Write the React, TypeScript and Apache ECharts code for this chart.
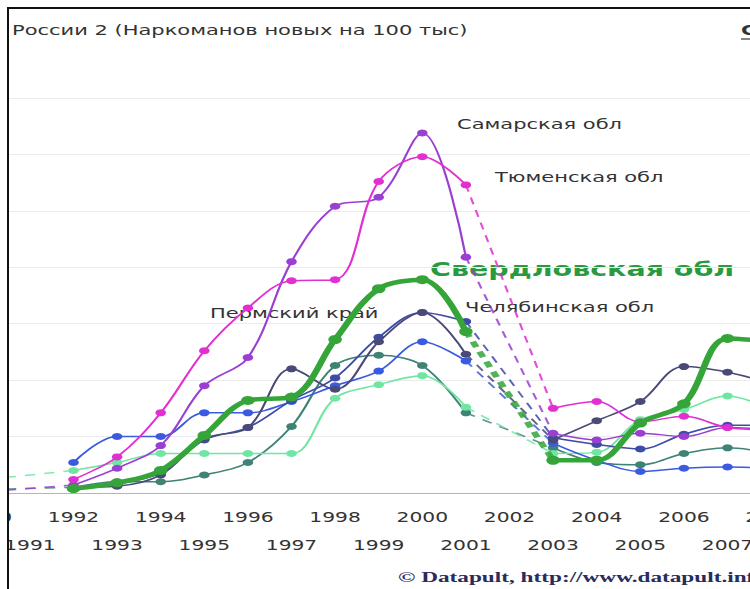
import React, { useEffect, useRef } from 'react';
import * as echarts from 'echarts';

const YEARS = ['1990', '1991', '1992', '1993', '1994', '1995', '1996', '1997', '1998', '1999', '2000', '2001', '2002', '2003', '2004', '2005', '2006', '2007', '2008'];

const TITLE = 'России 2 (Наркоманов новых на 100 тыс)';

// values per 100k, 1990..2008 (null = no data)
const TEAL = [3, null, 5, 10, 10, 16, 27, 59, 113, 122, 113, 71, null, 40, 27, 25, 35, 40, 35];
const LIGHT_GREEN = [12, null, 20, 27, 35, 35, 35, 35, 84, 96, 104, 76, null, 35, 36, 65, 74, 86, 74];
const BLUE = [null, null, 27, 50, 50, 71, 71, 81, 95, 108, 134, 117, null, 44, 29, 19, 22, 23, 22];
const CHELYABINSK = [null, null, 5, 8, 18, 47, 58, 82, 102, 138, 160, 152, null, 49, 43, 39, 52, 60, 60];
const PERM = [null, null, 5, 6, 16, 48, 58, 110, 92, 134, 160, 123, null, 47, 64, 81, 112, 107, 97];
const SAMARA = [1, null, 7, 22, 42, 95, 120, 205, 254, 262, 319, 209, null, 53, 47, 53, 50, 58, 56];
const TYUMEN = [null, null, 12, 32, 71, 126, 164, 188, 189, 276, 298, 273, null, 75, 81, 63, 68, 58, 56];
const SVERDLOVSK = [null, null, 4, 9, 20, 51, 82, 85, 136, 181, 189, 143, null, 29, 29, 62, 79, 137, 134];

const LABELS = ['Самарская обл', 'Тюменская обл', 'Свердловская обл', 'Пермский край', 'Челябинская обл'];

const REGIONS = [
  { name: 'teal', data: TEAL, color: '#3f8276', width: 1.5, size: 7 },
  { name: 'lightgreen', data: LIGHT_GREEN, color: '#6fe6a2', width: 1.5, size: 7 },
  { name: 'blue', data: BLUE, color: '#3a5be0', width: 1.5, size: 7 },
  { name: 'Челябинская обл', data: CHELYABINSK, color: '#3e4ca6', width: 1.5, size: 7 },
  { name: 'Пермский край', data: PERM, color: '#4a4a78', width: 1.5, size: 7 },
  { name: 'Самарская обл', data: SAMARA, color: '#9a3fd2', width: 1.5, size: 7 },
  { name: 'Тюменская обл', data: TYUMEN, color: '#e22fd2', width: 1.5, size: 7 },
  { name: 'Свердловская обл', data: SVERDLOVSK, color: '#35a53a', width: 4.5, size: 9 },
];

const S = 1.5; // horizontal stretch
const OFF = -60; // page x of chart origin
const px = (x: number) => (x - OFF) / S;

function buildSeries() {
  const out: any[] = [];
  REGIONS.forEach((r, k) => {
    out.push({
      type: 'line',
      name: r.name,
      data: r.data,
      smooth: 0.35,
      connectNulls: false,
      symbol: 'circle',
      symbolSize: r.size,
      showSymbol: true,
      showAllSymbol: true,
      lineStyle: { color: r.color, width: r.width },
      itemStyle: { color: r.color },
      z: 2 + k,
      silent: true,
    });
    const idx: number[] = [];
    r.data.forEach((v, i) => { if (v !== null) idx.push(i); });
    for (let j = 1; j < idx.length; j++) {
      const a = idx[j - 1];
      const b = idx[j];
      if (b - a > 1) {
        out.push({
          type: 'line',
          data: r.data.map((v, i) => (i === a || i === b ? v : null)),
          connectNulls: true,
          showSymbol: false,
          lineStyle: { color: r.color, width: r.width, type: r.width > 3 ? [6, 5] : [7, 6], opacity: 0.85 },
          z: 1 + k,
          silent: true,
        });
      }
    }
  });
  return out;
}

export default function App() {
  const ref = useRef<HTMLDivElement>(null);
  useEffect(() => {
    if (!ref.current) return;
    const chart = echarts.init(ref.current, null, { renderer: 'svg' });
    const font = 'DejaVu Sans, Verdana, sans-serif';
    chart.setOption({
      animation: false,
      backgroundColor: '#ffffff',
      grid: { left: px(-35.5), width: 828.4 / S, top: 98, height: 395 },
      xAxis: {
        type: 'category',
        data: YEARS,
        boundaryGap: true,
        axisLine: { lineStyle: { color: '#b2b4c2', width: 1 } },
        axisTick: { length: 5, lineStyle: { color: '#b2b4c2' } },
        axisLabel: {
          interval: 0,
          margin: 10,
          fontSize: 13.5,
          fontFamily: font,
          color: '#333333',
          lineHeight: 28,
          formatter: (v: string, i: number) => (i % 2 === 1 ? '\n' + v : v),
        },
        splitLine: { show: false },
      },
      yAxis: {
        type: 'value',
        min: 0,
        max: 350,
        interval: 50,
        axisLabel: { show: false },
        axisLine: { show: false },
        axisTick: { show: false },
        splitLine: { lineStyle: { color: '#ebebeb' } },
      },
      series: buildSeries(),
      graphic: [
        { type: 'text', x: px(12), y: 30, style: { text: TITLE, font: `14px ${font}`, fill: '#333', verticalAlign: 'middle' } },
        { type: 'text', x: px(741), y: 30, style: { text: 'G', font: `bold 14px ${font}`, fill: '#333', verticalAlign: 'middle' } },
        { type: 'line', shape: { x1: px(741), y1: 39, x2: px(760), y2: 39 }, style: { stroke: '#333', lineWidth: 1.2 } },
        { type: 'text', x: px(457), y: 124, style: { text: LABELS[0], font: `14px ${font}`, fill: '#333', verticalAlign: 'middle' } },
        { type: 'text', x: px(495), y: 177, style: { text: LABELS[1], font: `14px ${font}`, fill: '#333', verticalAlign: 'middle' } },
        { type: 'text', x: px(430), y: 270, style: { text: LABELS[2], font: `bold 19px ${font}`, fill: '#2a9a40', verticalAlign: 'middle' } },
        { type: 'text', x: px(210), y: 313, style: { text: LABELS[3], font: `14px ${font}`, fill: '#333', verticalAlign: 'middle' } },
        { type: 'text', x: px(465), y: 307, style: { text: LABELS[4], font: `14px ${font}`, fill: '#333', verticalAlign: 'middle' } },
        { type: 'text', x: px(398), y: 577, style: { text: '© Datapult, http://www.datapult.info', font: 'bold 15.5px "Liberation Serif", "Times New Roman", serif', fill: '#2b2b5c', verticalAlign: 'middle' } },
      ],
    });
    return () => chart.dispose();
  }, []);

  return (
    <div style={{ position: 'fixed', left: 0, top: 0, width: 750, height: 589, background: '#fff', overflow: 'hidden' }}>
      <div
        style={{
          position: 'absolute', left: 7, top: 7, width: 760, height: 600,
          borderLeft: '2px solid #111', borderTop: '2px solid #111', overflow: 'hidden', background: '#fff',
        }}
      >
        <div
          ref={ref}
          style={{
            position: 'absolute', left: OFF - 9, top: -9, width: 600, height: 589,
            transform: `scaleX(${S})`, transformOrigin: '0 0',
          }}
        />
      </div>
    </div>
  );
}
